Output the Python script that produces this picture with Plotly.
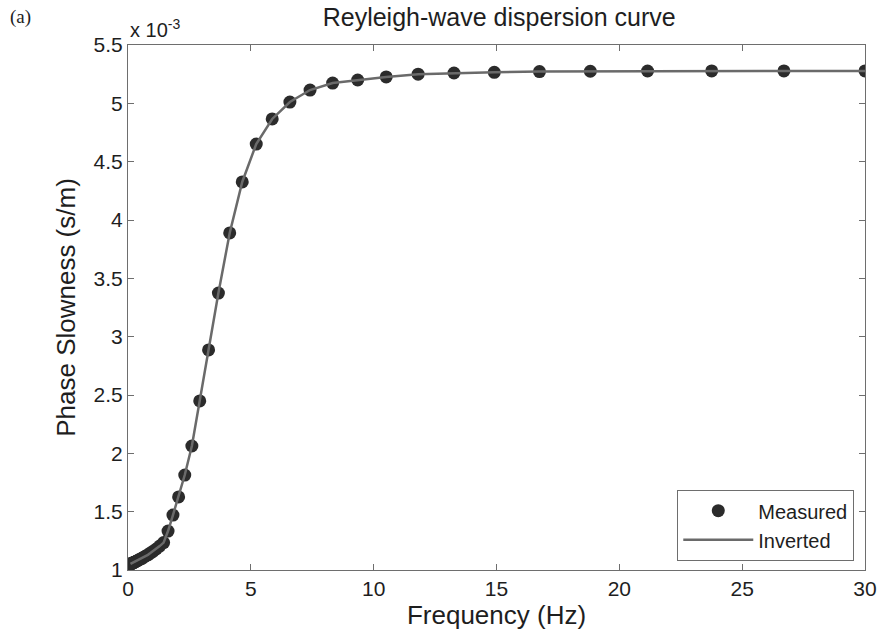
import plotly.graph_objects as go

# Frequency samples (Hz)
freq_hz = [30.0, 26.70, 23.76, 21.15, 18.82, 16.75, 14.91, 13.27, 11.81, 10.51,
           9.35, 8.33, 7.41, 6.59, 5.87, 5.22, 4.65, 4.14, 3.68, 3.28,
           2.92, 2.60, 2.31, 2.06, 1.83, 1.63, 1.45, 1.29, 1.15, 1.02,
           0.91, 0.81, 0.72, 0.64, 0.57, 0.51, 0.45, 0.40, 0.36, 0.32,
           0.28, 0.25, 0.22, 0.20, 0.18, 0.16, 0.14, 0.12, 0.11, 0.10]

# Measured phase slowness (x 10^-3 s/m)
measured_e3 = [5.278, 5.278, 5.278, 5.277, 5.275, 5.272, 5.266, 5.260, 5.250, 5.226,
               5.200, 5.174, 5.114, 5.011, 4.866, 4.651, 4.326, 3.889, 3.374, 2.886,
               2.449, 2.063, 1.814, 1.626, 1.471, 1.334, 1.235, 1.205, 1.180, 1.160,
               1.145, 1.130, 1.120, 1.110, 1.100, 1.095, 1.088, 1.082, 1.077, 1.073,
               1.069, 1.066, 1.063, 1.061, 1.059, 1.057, 1.056, 1.054, 1.053, 1.052]

# Inverted model response (x 10^-3 s/m)
inverted_e3 = list(measured_e3)

x_ticks = [0, 5, 10, 15, 20, 25, 30]
y_ticks = [1, 1.5, 2, 2.5, 3, 3.5, 4, 4.5, 5, 5.5]
y_tick_text = ["1", "1.5", "2", "2.5", "3", "3.5", "4", "4.5", "5", "5.5"]

FONT = "Liberation Sans, Arial, sans-serif"
AX = "#6e6e6e"
TXT = "#1e1e1e"

fig = go.Figure()
fig.add_trace(go.Scatter(
    x=freq_hz, y=measured_e3, mode="markers", name="Measured",
    marker=dict(size=13, color="#2b2b2b", line=dict(width=0)),
))
fig.add_trace(go.Scatter(
    x=freq_hz, y=inverted_e3, mode="lines", name="Inverted",
    line=dict(color="#6a6a6a", width=2.5),
))

axis_common = dict(
    showline=True, linecolor=AX, linewidth=1.2, mirror="ticks",
    ticks="inside", ticklen=6, tickcolor=AX, tickwidth=1,
    showgrid=False, zeroline=False,
    tickfont=dict(family=FONT, size=21, color=TXT),
)

fig.update_xaxes(range=[0, 30], tickvals=x_ticks,
                 title=dict(text="Frequency (Hz)", font=dict(family=FONT, size=26, color=TXT), standoff=2),
                 **axis_common)
fig.update_yaxes(range=[1, 5.5], tickvals=y_ticks, ticktext=y_tick_text,
                 title=dict(text="Phase Slowness (s/m)", font=dict(family=FONT, size=26, color=TXT), standoff=10),
                 **axis_common)

fig.update_layout(
    width=889, height=638,
    margin=dict(l=128, r=19, t=45, b=68),
    paper_bgcolor="white", plot_bgcolor="white",
    title=dict(text="Reyleigh-wave dispersion curve", x=0.5615, xanchor="center",
               y=1 - 17 / 638, yanchor="middle",
               font=dict(family=FONT, size=25, color=TXT)),
    legend=dict(x=(859 - 128) / 742, y=(570 - 561) / 525, xanchor="right", yanchor="bottom",
                bgcolor="white", bordercolor=AX, borderwidth=1.2,
                font=dict(family=FONT, size=20, color=TXT),
                itemwidth=70, tracegroupgap=0),
    showlegend=True,
    annotations=[
        dict(text="(a)", x=(7 - 128) / 742, y=1 + (45 - 17) / 525, xref="paper", yref="paper",
             showarrow=False,
             font=dict(family="Liberation Serif, Times New Roman, serif", size=19, color=TXT),
             xanchor="left", yanchor="middle"),
        dict(text="x 10<sup>-3</sup>", x=0, y=1.0, xref="paper", yref="paper",
             showarrow=False, xanchor="left", yanchor="bottom", yshift=2,
             font=dict(family=FONT, size=20, color=TXT)),
    ],
)

fig.write_html("out.html", config={"displayModeBar": False},
               post_script="document.body.style.margin='0';document.body.style.overflow='hidden';")
